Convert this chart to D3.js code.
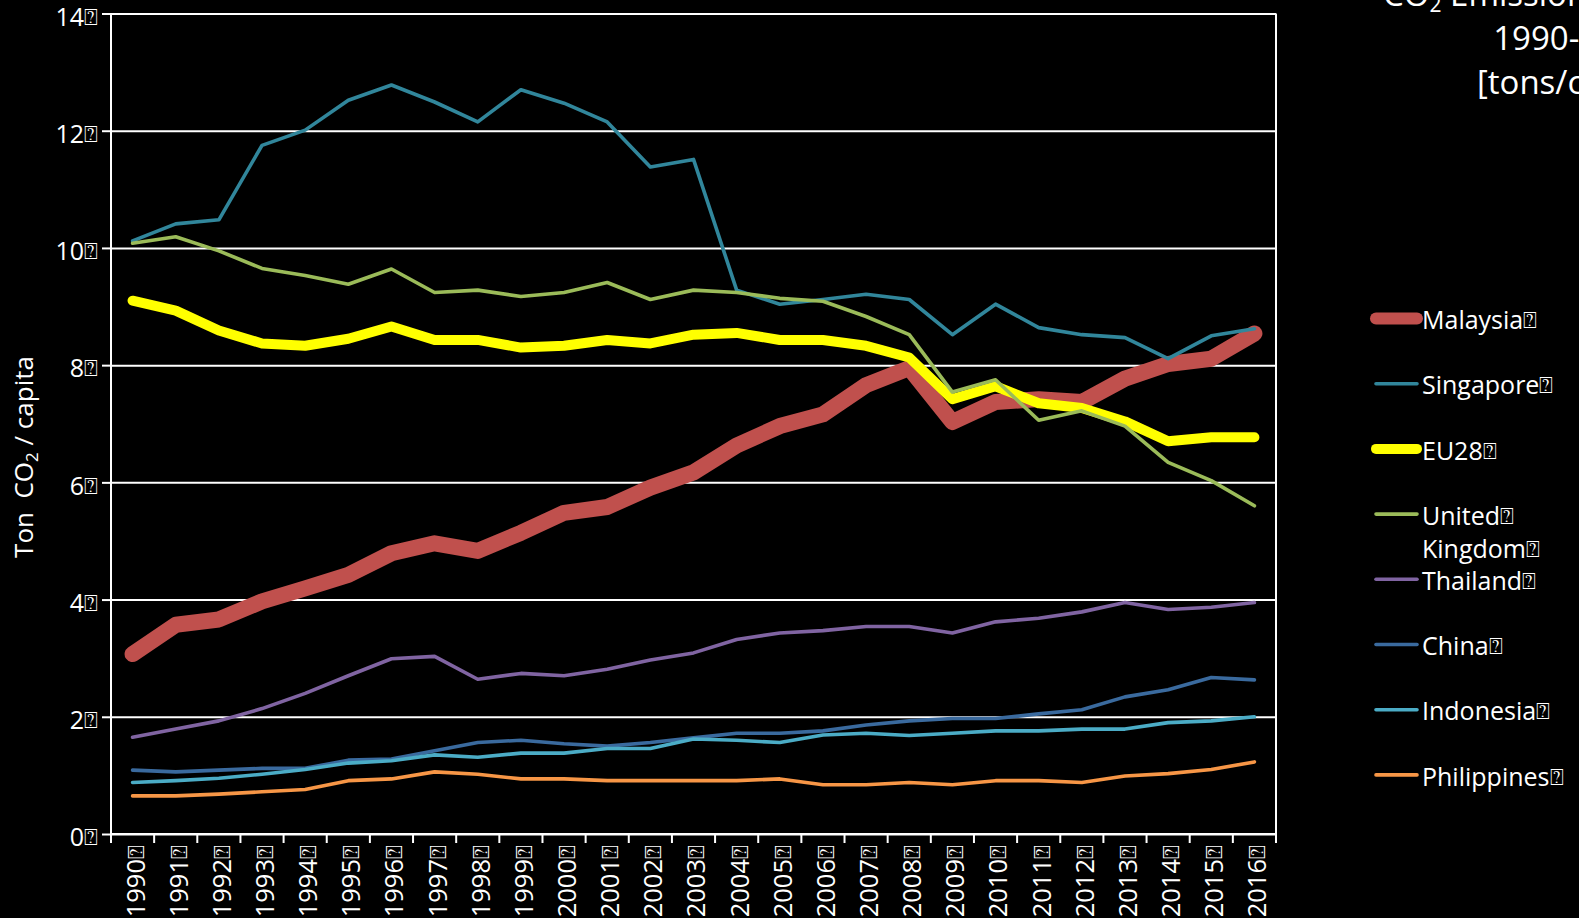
<!DOCTYPE html>
<html>
<head>
<meta charset="utf-8">
<script src="https://cdn.jsdelivr.net/npm/d3@7"></script>
<style>
  html, body { margin: 0; padding: 0; background: #000; }
  svg { display: block; }
  text { font-family: "Open Sans", sans-serif; fill: #fff; }
</style>
</head>
<body>
<svg id="chart" width="1579" height="918"></svg>
<script>
// ---------- DATA ----------
const years = [1990,1991,1992,1993,1994,1995,1996,1997,1998,1999,2000,2001,2002,2003,2004,2005,2006,2007,2008,2009,2010,2011,2012,2013,2014,2015,2016];
const yTicks = [0,2,4,6,8,10,12,14];
const seriesNames = ["Malaysia","Singapore","EU28","United Kingdom","Thailand","China","Indonesia","Philippines"];

const malaysia    = [3.07,3.57,3.66,3.97,4.19,4.42,4.79,4.96,4.83,5.14,5.48,5.58,5.91,6.17,6.63,6.96,7.16,7.66,7.95,7.03,7.37,7.42,7.37,7.77,8.02,8.11,8.54];
const singapore   = [10.12,10.41,10.48,11.75,12.01,12.52,12.78,12.49,12.15,12.70,12.47,12.15,11.38,11.51,9.28,9.04,9.12,9.21,9.12,8.52,9.04,8.64,8.52,8.47,8.11,8.50,8.62];
const eu28        = [9.10,8.93,8.59,8.37,8.33,8.45,8.66,8.43,8.43,8.30,8.33,8.43,8.37,8.52,8.55,8.43,8.43,8.33,8.13,7.42,7.64,7.35,7.27,7.04,6.70,6.77,6.77];
const uk          = [10.08,10.19,9.95,9.65,9.53,9.38,9.64,9.24,9.28,9.17,9.24,9.41,9.12,9.28,9.24,9.14,9.09,8.83,8.52,7.54,7.75,7.06,7.22,6.96,6.34,6.03,5.60];
const thailand    = [1.65,1.79,1.93,2.14,2.40,2.70,2.99,3.03,2.64,2.74,2.70,2.81,2.97,3.09,3.32,3.43,3.47,3.54,3.54,3.43,3.62,3.68,3.79,3.95,3.83,3.87,3.95];
const china       = [1.09,1.06,1.09,1.12,1.12,1.26,1.28,1.42,1.56,1.60,1.54,1.50,1.56,1.64,1.72,1.72,1.76,1.86,1.93,1.97,1.97,2.05,2.12,2.34,2.46,2.67,2.63];
const indonesia   = [0.88,0.91,0.95,1.02,1.10,1.21,1.25,1.35,1.31,1.38,1.38,1.46,1.46,1.62,1.60,1.56,1.69,1.72,1.68,1.72,1.76,1.76,1.79,1.79,1.90,1.93,2.00];
const philippines = [0.65,0.65,0.68,0.72,0.76,0.91,0.94,1.06,1.02,0.94,0.94,0.91,0.91,0.91,0.91,0.94,0.84,0.84,0.88,0.84,0.91,0.91,0.88,0.99,1.03,1.10,1.23];

const seriesValues = [malaysia, singapore, eu28, uk, thailand, china, indonesia, philippines];
const seriesColors = ["#C0504D","#31869B","#FFFF00","#9BBB59","#8064A2","#3A6A9E","#4BACC6","#F79646"];
const seriesWidths = [16,3.6,10,3.6,3.6,3.6,3.6,3.6];
const legendWidths = [12,3.6,10,3.6,3.6,3.6,3.6,3.6];

const Q = "\u2370"; // box glyph shown after every label in the reference

// ---------- LAYOUT ----------
const svg = d3.select("#chart");
const pLeft = 111, pRight = 1276, pTop = 13.5, pBottom = 834;

const x = d3.scaleBand().domain(years).range([pLeft, pRight]).padding(0);
const y = d3.scaleLinear().domain([0, 14]).range([pBottom, pTop]);

function addQ(sel) {
  sel.append("tspan").attr("font-family", "DejaVu Sans").attr("font-size", "23px").attr("dy", "-1").text(Q);
}

// gridlines
svg.append("g")
  .attr("transform", `translate(${pLeft},0)`)
  .call(d3.axisLeft(y).tickValues(yTicks).tickSize(-(pRight - pLeft)).tickFormat(""))
  .call(g => g.select(".domain").remove())
  .call(g => g.selectAll("line").attr("stroke", "#fff").attr("stroke-width", 2));

// y axis
const yAxis = svg.append("g")
  .attr("transform", `translate(${pLeft},0)`)
  .call(d3.axisLeft(y).tickValues(yTicks).tickSize(9).tickPadding(0));
yAxis.select(".domain").attr("stroke", "#fff").attr("stroke-width", 2).attr("d", `M0,${pTop}V${pBottom + 1}`);
yAxis.selectAll(".tick line").attr("stroke", "#fff").attr("stroke-width", 2);
yAxis.selectAll(".tick text").each(function(d) {
  const t = d3.select(this);
  t.text(null).attr("x", -13).attr("y", 3).attr("dy", "0.35em")
   .attr("text-anchor", "end").attr("font-size", "25px").attr("fill", "#fff")
   .style("font-family", "'Open Sans', sans-serif");
  t.append("tspan").text(d);
  addQ(t);
});

// right border
svg.append("line")
  .attr("x1", pRight).attr("x2", pRight).attr("y1", pTop).attr("y2", pBottom)
  .attr("stroke", "#fff").attr("stroke-width", 2);

// x axis
const xAxis = svg.append("g")
  .attr("transform", `translate(0,${pBottom})`)
  .call(d3.axisBottom(x).tickSize(0).tickPadding(0));
xAxis.select(".domain").attr("stroke", "#fff").attr("stroke-width", 2).attr("d", `M${pLeft - 1},0H${pRight + 1}`);
xAxis.selectAll(".tick text").each(function(d) {
  const t = d3.select(this);
  t.text(null)
   .attr("transform", "rotate(-90)")
   .attr("x", -11).attr("y", 3).attr("dy", "0.35em")
   .attr("text-anchor", "end").attr("font-size", "25.5px").attr("fill", "#fff")
   .style("font-family", "'Open Sans', sans-serif");
  t.append("tspan").text(d);
  addQ(t);
});
// category boundary ticks
const boundaries = years.map(yr => x(yr)).concat([x(years[years.length - 1]) + x.step()]);
xAxis.selectAll("line.bt").data(boundaries).enter().append("line")
  .attr("class", "bt")
  .attr("x1", d => d).attr("x2", d => d).attr("y1", 0).attr("y2", 9)
  .attr("stroke", "#fff").attr("stroke-width", 2);

// series lines
const line = d3.line()
  .x((d, i) => x(years[i]) + x.bandwidth() / 2)
  .y(d => y(d));

seriesValues.forEach((vals, k) => {
  svg.append("path")
    .datum(vals)
    .attr("fill", "none")
    .attr("stroke", seriesColors[k])
    .attr("stroke-width", seriesWidths[k])
    .attr("stroke-linejoin", "round")
    .attr("stroke-linecap", "round")
    .attr("d", line);
});

// legend
const legY0 = 318.5, legStep = 65.2;
const leg = svg.append("g");
seriesNames.forEach((name, k) => {
  const cy = legY0 + legStep * k;
  leg.append("line")
    .attr("x1", 1376).attr("x2", 1417).attr("y1", cy).attr("y2", cy)
    .attr("stroke", seriesColors[k]).attr("stroke-width", legendWidths[k])
    .attr("stroke-linecap", "round");
  const words = name === "United Kingdom" ? ["United", "Kingdom"] : [name];
  words.forEach((w, j) => {
    const t = leg.append("text")
      .attr("x", 1422).attr("y", cy + 2 + j * 33).attr("dy", "0.35em")
      .attr("font-size", "25px");
    t.append("tspan").text(w);
    addQ(t);
  });
});

// y axis title
svg.append("text")
  .attr("transform", "translate(33,457) rotate(-90)")
  .attr("text-anchor", "middle")
  .attr("font-size", "26px")
  .attr("xml:space", "preserve")
  .call(t => {
    t.append("tspan").text("Ton  CO");
    t.append("tspan").attr("font-size", "17px").attr("dy", "5").text("2");
    t.append("tspan").attr("dy", "-5").text(" / capita");
  });

// chart title (top right, partially off-canvas as in the reference)
const title = svg.append("text").attr("text-anchor", "middle").attr("font-size", "33px");
title.append("tspan").attr("x", 1574).attr("y", 6).call(t => {
  t.append("tspan").text("CO");
  t.append("tspan").attr("font-size", "21px").attr("dy", "6").text("2");
  t.append("tspan").attr("dy", "-6").text(" Emissions per capita");
});
title.append("tspan").attr("x", 1574).attr("y", 50).text("1990-2016");
title.append("tspan").attr("x", 1574).attr("y", 94).text("[tons/capita]");
</script>
</body>
</html>
